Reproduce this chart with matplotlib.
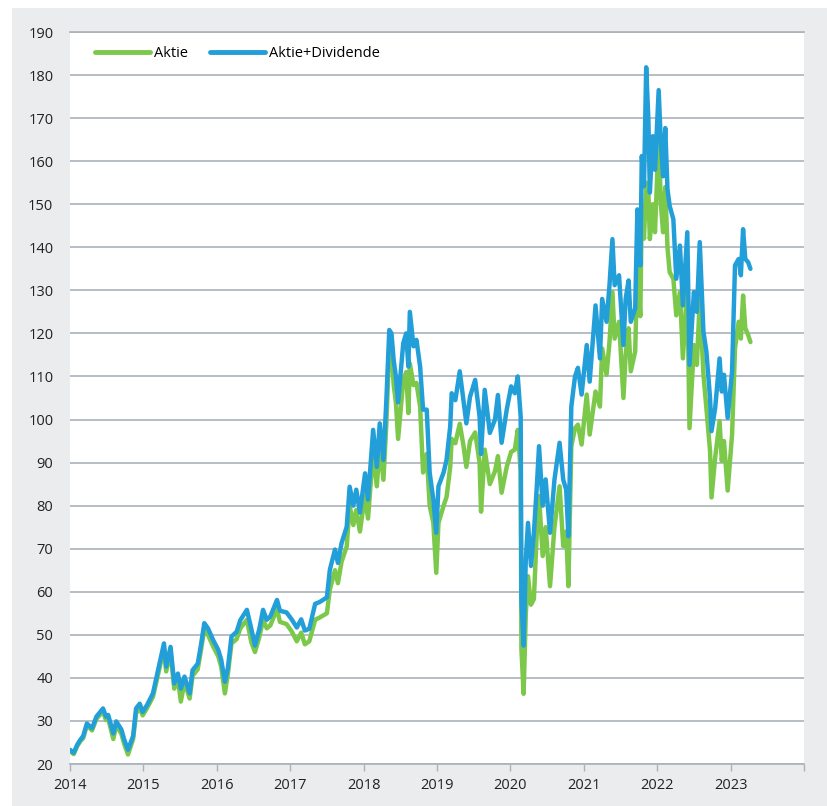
import matplotlib
matplotlib.use("Agg")
import matplotlib.pyplot as plt
from matplotlib.patches import Rectangle

# decimal year positions
dates = [
    2014.00, 2014.05, 2014.10, 2014.14, 2014.18, 2014.23, 2014.30, 2014.36, 2014.45, 2014.49,
    2014.52, 2014.59, 2014.63, 2014.70, 2014.74, 2014.79, 2014.86, 2014.90, 2014.95, 2014.99,
    2015.05, 2015.13, 2015.20, 2015.28, 2015.31, 2015.37, 2015.42, 2015.47, 2015.51, 2015.56,
    2015.63, 2015.67, 2015.74, 2015.78, 2015.83, 2015.88, 2015.95, 2016.02, 2016.06, 2016.11,
    2016.15, 2016.20, 2016.27, 2016.32, 2016.41, 2016.47, 2016.52, 2016.58, 2016.63, 2016.68,
    2016.73, 2016.82, 2016.86, 2016.95, 2017.02, 2017.09, 2017.15, 2017.20, 2017.26, 2017.34,
    2017.40, 2017.50, 2017.54, 2017.61, 2017.65, 2017.70, 2017.77, 2017.81, 2017.86, 2017.90,
    2017.95, 2018.02, 2018.06, 2018.13, 2018.18, 2018.22, 2018.27, 2018.31, 2018.35, 2018.38,
    2018.41, 2018.44, 2018.47, 2018.54, 2018.58, 2018.61, 2018.63, 2018.68, 2018.72, 2018.77,
    2018.81, 2018.86, 2018.90, 2018.95, 2018.99, 2019.02, 2019.09, 2019.13, 2019.18, 2019.20,
    2019.25, 2019.31, 2019.36, 2019.40, 2019.45, 2019.52, 2019.58, 2019.60, 2019.65, 2019.72,
    2019.79, 2019.83, 2019.88, 2019.95, 2020.01, 2020.06, 2020.10, 2020.14, 2020.15, 2020.18,
    2020.21, 2020.24, 2020.28, 2020.32, 2020.36, 2020.39, 2020.44, 2020.48, 2020.54, 2020.60,
    2020.67, 2020.72, 2020.76, 2020.79, 2020.83, 2020.88, 2020.92, 2020.97, 2021.04, 2021.08,
    2021.16, 2021.22, 2021.25, 2021.31, 2021.35, 2021.39, 2021.42, 2021.48, 2021.54, 2021.57,
    2021.61, 2021.64, 2021.70, 2021.73, 2021.77, 2021.79, 2021.82, 2021.85, 2021.88, 2021.90,
    2021.94, 2021.97, 2022.02, 2022.05, 2022.08, 2022.11, 2022.14, 2022.17, 2022.22, 2022.26,
    2022.31, 2022.35, 2022.41, 2022.44, 2022.50, 2022.54, 2022.58, 2022.63, 2022.67, 2022.72,
    2022.74, 2022.79, 2022.85, 2022.88, 2022.91, 2022.96, 2023.02, 2023.06, 2023.11, 2023.14,
    2023.17, 2023.20, 2023.24, 2023.27,
]

aktie_div = [
    23.3, 22.6, 24.5, 25.6, 26.5, 29.4, 28.3, 31.0, 32.9, 31.0,
    31.4, 27.1, 29.9, 28.0, 25.6, 23.3, 26.5, 32.9, 34.0, 32.1,
    33.7, 36.4, 41.8, 48.0, 42.6, 47.2, 38.7, 41.0, 37.5, 40.3,
    36.4, 41.8, 43.3, 47.2, 52.7, 51.5, 48.8, 46.5, 44.2, 39.1,
    42.2, 49.6, 50.7, 53.4, 55.8, 51.4, 47.5, 51.4, 55.8, 53.5,
    54.3, 58.1, 55.6, 55.2, 53.6, 51.7, 53.6, 51.0, 51.4, 57.2,
    57.6, 58.7, 65.1, 69.8, 66.7, 71.3, 75.1, 84.4, 80.0, 83.7,
    78.4, 87.5, 81.4, 97.6, 89.0, 99.1, 90.6, 104.5, 120.8, 120.0,
    113.7, 110.0, 104.0, 117.7, 120.0, 112.3, 125.0, 117.0, 118.5, 112.3,
    102.3, 102.3, 87.7, 81.4, 73.7, 84.5, 87.7, 90.6, 98.4, 106.1,
    104.5, 111.2, 104.5, 99.1, 105.3, 109.2, 100.7, 92.0, 106.9, 96.9,
    100.0, 105.7, 94.6, 102.3, 107.7, 106.1, 110.0, 100.7, 58.3, 47.5,
    67.6, 76.0, 66.0, 73.7, 84.5, 93.8, 80.0, 86.1, 73.7, 86.0,
    94.6, 86.0, 83.7, 72.9, 103.0, 110.0, 112.0, 105.8, 117.3, 108.8,
    126.5, 114.2, 128.0, 122.7, 131.2, 141.9, 131.2, 133.5, 117.3, 128.0,
    132.3, 122.7, 125.8, 148.8, 135.8, 161.2, 154.2, 181.8, 169.6, 152.7,
    165.8, 158.0, 176.5, 164.2, 156.5, 167.7, 153.5, 149.6, 146.5, 132.7,
    140.4, 126.5, 143.5, 112.7, 129.6, 125.0, 141.2, 120.4, 115.8, 105.0,
    97.3, 102.7, 114.2, 106.5, 110.4, 100.4, 111.2, 135.8, 137.3, 133.5,
    144.2, 137.3, 136.5, 135.0,
]

aktie = [
    23.0, 22.3, 24.2, 25.3, 26.0, 29.0, 27.8, 30.5, 32.2, 30.2,
    30.6, 25.8, 29.0, 27.0, 24.6, 22.2, 25.8, 31.8, 33.0, 31.3,
    33.0, 35.6, 40.8, 47.0, 41.5, 46.0, 37.5, 39.8, 34.5, 39.0,
    35.2, 40.5, 42.0, 46.0, 51.3, 50.0, 47.3, 45.0, 42.6, 36.4,
    40.8, 48.0, 49.0, 51.5, 53.5, 48.3, 46.0, 49.5, 53.5, 51.5,
    52.2, 56.0, 53.0, 52.5, 50.8, 48.5, 50.5, 47.8, 48.5, 53.5,
    54.0, 55.0, 60.5, 65.0, 62.0, 67.0, 70.5, 80.0, 75.5, 79.0,
    74.0, 82.5, 77.0, 92.5, 84.5, 94.0, 86.0, 99.0, 117.0, 116.5,
    108.0, 104.0, 95.5, 109.0, 111.0, 101.5, 113.0, 108.0, 108.5, 103.0,
    87.7, 92.0, 80.0, 76.0, 64.4, 76.0, 80.0, 82.0, 89.0, 95.5,
    94.5, 99.0, 94.0, 89.0, 95.0, 97.0, 90.0, 78.6, 93.0, 85.0,
    88.0, 91.5, 83.0, 89.0, 92.5, 93.0, 97.6, 88.0, 46.7, 36.3,
    55.0, 63.6, 57.0, 58.3, 74.0, 82.2, 68.3, 75.0, 61.3, 75.0,
    84.5, 70.6, 74.0, 61.3, 93.8, 98.0, 98.8, 94.2, 105.8, 96.5,
    106.5, 103.0, 116.5, 110.4, 118.0, 129.6, 118.8, 122.7, 105.0, 115.0,
    121.2, 111.2, 115.8, 135.8, 124.0, 148.8, 142.0, 155.0, 152.7, 141.9,
    150.0, 143.5, 165.8, 150.0, 143.5, 154.0, 140.0, 134.2, 132.7, 124.2,
    129.6, 114.2, 131.2, 98.0, 117.3, 112.7, 128.0, 110.4, 102.7, 92.7,
    81.9, 91.2, 99.6, 90.4, 95.0, 83.5, 96.5, 116.5, 122.7, 118.8,
    128.8, 121.2, 119.6, 118.0,
]

year_ticks = [2014, 2015, 2016, 2017, 2018, 2019, 2020, 2021, 2022, 2023, 2024]
year_labels = ["2014", "2015", "2016", "2017", "2018", "2019", "2020", "2021", "2022", "2023", ""]
y_ticks = list(range(20, 191, 10))

series_names = ["Aktie", "Aktie+Dividende"]
GREEN = "#7cc84a"
BLUE = "#229fd9"
GRID = "#a9b1ba"
BG = "#ebecee"

plt.rcParams['font.family'] = ['Open Sans', 'DejaVu Sans']

W, H = 828, 806
fig = plt.figure(figsize=(W / 100, H / 100), dpi=100, facecolor="white")
fig.patches.append(Rectangle((12 / W, 0), 1 - 12 / W, (H - 8) / H,
                             transform=fig.transFigure, facecolor=BG,
                             edgecolor="none", zorder=-10))

ax = fig.add_axes([70 / W, (H - 764) / H, (804 - 70) / W, (764 - 32) / H])
ax.set_facecolor("white")

ax.plot(dates, aktie, color=GREEN, lw=3.2, solid_joinstyle="round",
        solid_capstyle="round", label=series_names[0], zorder=3)
ax.plot(dates, aktie_div, color=BLUE, lw=3.2, solid_joinstyle="round",
        solid_capstyle="round", label=series_names[1], zorder=4)

ax.set_xlim(2014, 2024)
ax.set_ylim(20, 190)
ax.set_yticks(y_ticks)
ax.set_yticklabels([str(v) for v in y_ticks])
ax.set_xticks(year_ticks)
ax.set_xticklabels(year_labels)

ax.grid(axis="y", color=GRID, lw=1.2, zorder=1)
ax.set_axisbelow(True)
for s in ["left", "right"]:
    ax.spines[s].set_visible(False)
for s in ["top", "bottom"]:
    ax.spines[s].set_color(GRID)
    ax.spines[s].set_linewidth(1.2)

ax.tick_params(axis="y", length=0, pad=12, labelsize=10.5, labelcolor="#222222")
ax.tick_params(axis="x", length=5, width=1, color=GRID, pad=5,
               labelsize=10.5, labelcolor="#222222")

leg = ax.legend(loc="upper left", bbox_to_anchor=(0.02, 0.995), ncol=2,
                frameon=False, fontsize=10.5, handlelength=3.8,
                handletextpad=0.25, columnspacing=1.5, borderaxespad=0.3)
for line in leg.get_lines():
    line.set_linewidth(3.5)

fig.savefig("out.png", dpi=100, facecolor=fig.get_facecolor())
